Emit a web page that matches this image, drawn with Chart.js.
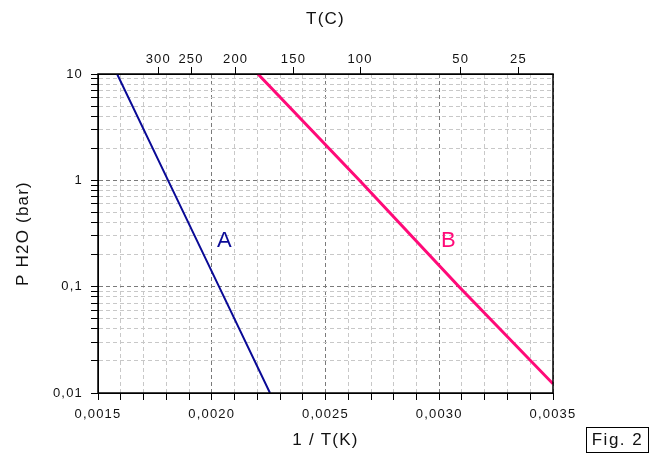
<!DOCTYPE html>
<html>
<head>
<meta charset="utf-8">
<script src="https://cdn.jsdelivr.net/npm/chart.js@4/dist/chart.umd.min.js"></script>
<style>
  html, body { margin: 0; padding: 0; background: #fff; }
  #wrap { position: relative; width: 658px; height: 457px; }
  #fig {
    position: absolute; left: 586px; top: 427px; width: 61px; height: 24px;
    border: 1px solid #000; font: 17px "Liberation Sans", Arial, sans-serif;
    letter-spacing: 1.5px; line-height: 24px; text-align: center; color: #111;
  }
</style>
</head>
<body>
<div id="wrap">
  <canvas id="chart" width="658" height="457"></canvas>
  <div id="fig">Fig. 2</div>
</div>
<script>
// values: x = 1/T(K), y = P H2O (bar)
const invTA = [0.001584, 0.001808, 0.002032, 0.002256];
const presA = [10, 1, 0.1, 0.01];
const invTB = [0.002203, 0.002649, 0.003087, 0.0035];
const presB = [10, 1, 0.1, 0.0122];

// top axis: temperatures in Celsius and where the figure puts them (1/T)
const topTempsC = [300, 250, 200, 150, 100, 50, 25];
const topTickInvT = [0.001765, 0.001909, 0.002105, 0.002359, 0.002652, 0.003094, 0.003348];

// left axis decades and their labels
const yDecades = [0.01, 0.1, 1, 10];
const yDecadeLabels = ["0,01", "0,1", "1", "10"];

// curve names, placed in data units
const curveNames = ["A", "B"];
const curveNameX = [0.002058, 0.003043];
const curveNameY = [0.27, 0.27];

const colorA = "#0a0a96";
const colorB = "#ff0a78";
const font = "'Liberation Sans', Arial, sans-serif";

const toPoints = (xs, ys) => xs.map((x, i) => ({ x: x, y: ys[i] }));

const decadeIndex = (v) =>
  yDecades.findIndex((d) => Math.abs(v - d) / d < 1e-6);

const isMajorX = (v) => Math.round(v * 10000) % 5 === 0;

// the old figure uses loosely spaced lettering
const spacingPlugin = {
  id: "spacing",
  beforeInit(chart) { chart.ctx.letterSpacing = "1.2px"; },
  beforeDraw(chart) { chart.ctx.letterSpacing = "1.2px"; },
};

// frame around the plot + curve names
const framePlugin = {
  id: "frame",
  afterDatasetsDraw(chart) {
    const { ctx, scales } = chart;
    ctx.save();
    ctx.font = "22px " + font;
    ctx.textAlign = "center";
    ctx.textBaseline = "middle";
    curveNames.forEach((name, i) => {
      ctx.fillStyle = i === 0 ? colorA : colorB;
      ctx.fillText(
        name,
        scales.x.getPixelForValue(curveNameX[i]),
        scales.y.getPixelForValue(curveNameY[i])
      );
    });
    ctx.restore();
  },
  afterDraw(chart) {
    const { ctx, chartArea: a } = chart;
    ctx.save();
    ctx.strokeStyle = "#000";
    ctx.lineWidth = 1.5;
    ctx.strokeRect(a.left, a.top, a.right - a.left, a.bottom - a.top);
    ctx.restore();
  },
};

new Chart(document.getElementById("chart"), {
  type: "scatter",
  data: {
    datasets: [
      {
        label: "A",
        data: toPoints(invTA, presA),
        showLine: true,
        borderColor: colorA,
        borderWidth: 2,
        pointRadius: 0,
      },
      {
        label: "B",
        data: toPoints(invTB, presB),
        showLine: true,
        borderColor: colorB,
        borderWidth: 3,
        pointRadius: 0,
      },
    ],
  },
  options: {
    responsive: false,
    animation: false,
    layout: { padding: { left: 10, right: 105, top: 6, bottom: 2 } },
    plugins: { legend: { display: false }, tooltip: { enabled: false } },
    scales: {
      x: {
        type: "linear",
        position: "bottom",
        min: 0.0015,
        max: 0.0035,
        afterFit: (s) => { s.height = 62; },
        ticks: {
          stepSize: 0.0001,
          autoSkip: false,
          maxRotation: 0,
          padding: 7,
          color: "#111",
          font: { family: font, size: 13 },
          callback: (v) => (isMajorX(v) ? v.toFixed(4).replace(".", ",") : ""),
        },
        grid: {
          color: (c) => (c.tick && isMajorX(c.tick.value) ? "#7a7a7a" : "#c8c8c8"),
          tickColor: "#000",
          tickLength: 7,
          tickBorderDash: [],
        },
        border: { display: true, color: "#000", dash: [4, 3] },
        title: {
          display: true,
          text: "1 / T(K)",
          color: "#111",
          font: { family: font, size: 17 },
          padding: { top: 0, bottom: 4 },
        },
      },
      x2: {
        type: "linear",
        position: "top",
        min: 0.0015,
        max: 0.0035,
        afterFit: (s) => { s.height = 68; },
        afterBuildTicks: (s) => {
          s.ticks = topTickInvT.map((v) => ({ value: v }));
        },
        ticks: {
          autoSkip: false,
          maxRotation: 0,
          padding: 0,
          color: "#111",
          font: { family: font, size: 13 },
          callback: (v, i) => String(topTempsC[i]),
        },
        grid: {
          drawOnChartArea: false,
          color: "#000",
          tickLength: 7,
        },
        border: { display: true, color: "#000" },
        title: {
          display: true,
          text: "T(C)",
          color: "#111",
          font: { family: font, size: 17 },
          padding: { top: 3, bottom: 4 },
        },
      },
      y: {
        type: "logarithmic",
        position: "left",
        min: 0.01,
        max: 10,
        afterFit: (s) => { s.width = 88; },
        afterBuildTicks: (s) => {
          const list = [];
          yDecades.slice(0, -1).forEach((d) => {
            for (let m = 1; m < 10; m++) list.push({ value: m * d });
          });
          list.push({ value: yDecades[yDecades.length - 1] });
          s.ticks = list;
        },
        ticks: {
          autoSkip: false,
          padding: 8,
          color: "#111",
          font: { family: font, size: 13 },
          callback: (v) => {
            const i = decadeIndex(v);
            return i >= 0 ? yDecadeLabels[i] : "";
          },
        },
        grid: {
          color: (c) => (c.tick && decadeIndex(c.tick.value) >= 0 ? "#7a7a7a" : "#c8c8c8"),
          tickColor: "#000",
          tickLength: 7,
          tickBorderDash: [],
        },
        border: { display: true, color: "#000", dash: [4, 3] },
        title: {
          display: true,
          text: "P H2O (bar)",
          color: "#111",
          font: { family: font, size: 17 },
          padding: { top: 3, bottom: 4 },
        },
      },
    },
  },
  plugins: [spacingPlugin, framePlugin],
});
</script>
</body>
</html>
